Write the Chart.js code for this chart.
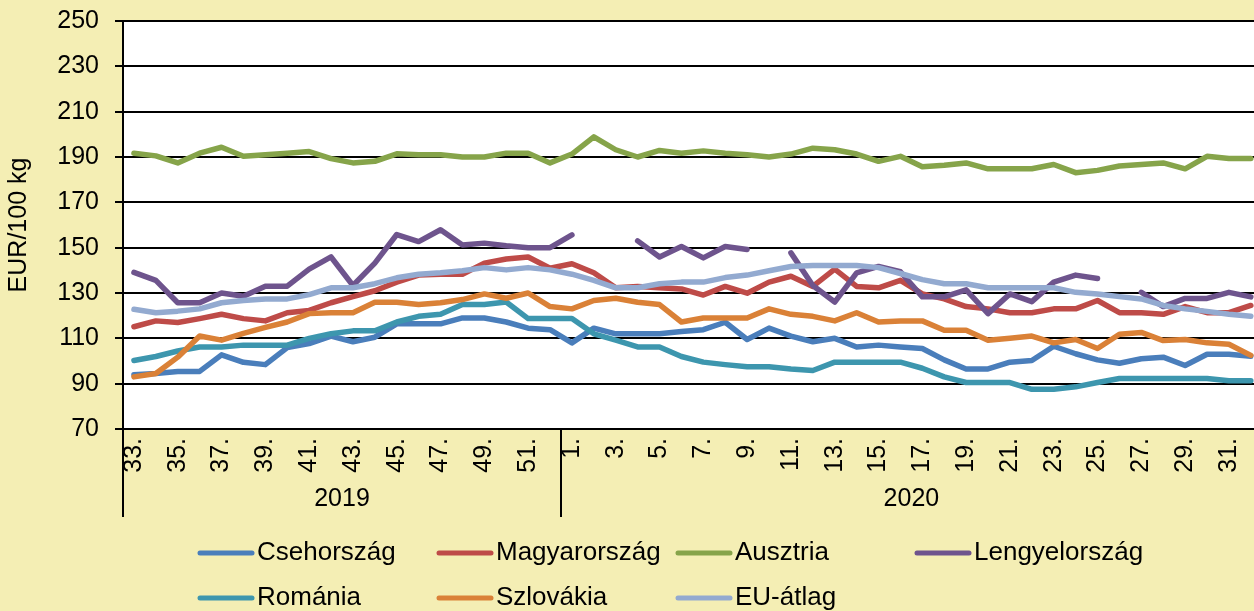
<!DOCTYPE html>
<html>
<head>
<meta charset="utf-8">
<script src="https://cdn.jsdelivr.net/npm/chart.js@4.4.0/dist/chart.umd.min.js"></script>
<style>
  html, body { margin: 0; padding: 0; background: #F4EEB4; overflow: hidden; }
  #wrap { position: relative; width: 1254px; height: 611px; overflow: hidden; }
  canvas { display: block; }
</style>
</head>
<body>
<div id="wrap"><canvas id="c" width="1290" height="611"></canvas></div>
<script>
  // weeks 33-52 of 2019, then weeks 1-32 of 2020
  var weeks = ['33.','34.','35.','36.','37.','38.','39.','40.','41.','42.','43.','44.','45.','46.','47.','48.','49.','50.','51.','52.',
    '1.','2.','3.','4.','5.','6.','7.','8.','9.','10.','11.','12.','13.','14.','15.','16.','17.','18.','19.','20.',
    '21.','22.','23.','24.','25.','26.','27.','28.','29.','30.','31.','32.'];
  var years = ['2019', '2020'];
  var yearWeekCount = [20, 32];

  var csehorszag = [93.9,94.5,95.4,95.4,102.7,99.4,98.4,105.9,107.7,111,108.5,110.5,116.4,116.4,116.4,119,119,117.2,114.5,113.8,
    108,114.5,112,112,112,113,113.8,117.1,109.5,114.5,111,108.5,110,106.2,107,106.2,105.5,100.5,96.5,96.5,
    99.5,100.2,106.5,103.2,100.5,99,101,101.7,98,103,103,102.1];
  var magyarorszag = [115.1,117.7,117,118.7,120.6,118.7,117.7,121.3,122.3,125.7,128.4,131,134.8,137.9,138.3,138.3,143.2,145,145.9,140.9,
    142.9,138.9,132.3,132.9,132.3,131.8,129.1,132.9,129.9,134.8,137.4,132.9,140.5,132.9,132.3,135.6,129.6,127.4,124,123,
    121.3,121.3,123,123,126.7,121.3,121.3,120.6,124,121.3,121.3,124.5];
  var ausztria = [191.7,190.5,187.4,191.7,194.3,190.3,191,191.7,192.4,189.3,187.4,188.1,191.4,191,191,190,190,191.7,191.7,187.4,
    191.3,198.9,193.2,190,192.9,191.7,192.7,191.7,191,190,191.3,193.9,193.2,191.3,188.1,190.3,185.7,186.4,187.4,184.8,
    184.8,184.8,186.7,183.1,184.1,186,186.7,187.4,184.8,190.3,189.3,189.3];
  var lengyelorszag = [139.1,135.6,125.7,125.7,130,128.6,133,133,140.5,145.9,133.3,143.2,155.8,152.7,157.9,151.2,152,150.8,150,150,
    155.6,null,null,153,145.9,150.5,145.5,150.5,149.2,null,147.7,133.3,126,138.9,141.7,139.4,128.3,128.3,131.4,120.9,
    129.6,126.2,134.8,137.9,136.4,null,130.3,124,127.6,127.6,130.3,128.3];
  var romania = [100.2,102,104.4,106.2,106.2,107,107,107,110,112,113.3,113.3,117.2,119.7,120.6,124.9,124.9,126,118.7,118.7,
    118.7,112,109.2,106.2,106.2,102,99.5,98.4,97.5,97.5,96.5,95.8,99.5,99.5,99.5,99.5,96.8,93,90.5,90.5,
    90.5,87.5,87.5,88.6,90.5,92.3,92.3,92.3,92.3,92.3,91.3,91.3];
  var szlovakia = [93,94.5,101.7,111,109.2,112.2,114.8,117.2,120.9,121.3,121.3,125.9,125.9,124.9,125.7,127.1,129.6,127.7,130,124,
    123,126.7,127.7,125.9,124.9,117.2,119,119,119,123,120.6,119.7,117.7,121.3,117.2,117.7,117.7,113.6,113.6,109.2,
    110,111,108,109.5,105.5,111.8,112.6,109,109.5,108,107.4,102.5];
  var euAtlag = [122.8,121.3,122,123,125.7,126.7,127.4,127.4,129.3,132.3,132.3,134.1,136.7,138.3,138.9,139.8,141.2,140.2,141.2,140.2,
    138.3,135.6,132.3,132.3,134.1,134.8,134.8,136.8,137.9,139.8,141.7,142.1,142.1,142.1,141.2,138.6,135.9,134.1,134.1,132.3,
    132.3,132.3,132.3,130.3,129.6,128.4,127.4,124.5,123,121.9,120.6,119.7];

  var seriesNames = ['Csehország', 'Magyarország', 'Ausztria', 'Lengyelország', 'Románia', 'Szlovákia', 'EU-átlag'];
  var seriesData = [csehorszag, magyarorszag, ausztria, lengyelorszag, romania, szlovakia, euAtlag];
  var seriesColors = ['#4A7EBB', '#BE4B48', '#86A44A', '#6E548D', '#3D96AE', '#DA8137', '#93AAD0'];

  var yTicks = [70, 90, 110, 130, 150, 170, 190, 210, 230, 250];

  var font = '"Liberation Sans", Arial, sans-serif';

  var datasets = seriesNames.map(function(name, i) {
    return {
      label: name,
      data: seriesData[i],
      borderColor: seriesColors[i],
      backgroundColor: seriesColors[i],
      borderWidth: 5.5,
      borderCapStyle: 'round',
      borderJoinStyle: 'round',
      pointRadius: 0,
      tension: 0,
      fill: false,
      order: seriesNames.length - i // excel draws the last series on top
    };
  });

  // white plot area, year row under the weeks, and the grid-style legend
  var extras = {
    id: 'extras',
    beforeDraw: function(chart) {
      var a = chart.chartArea, ctx = chart.ctx;
      ctx.save();
      ctx.fillStyle = '#fff';
      ctx.fillRect(a.left, a.top, a.right - a.left, a.bottom - a.top);
      ctx.restore();
    },
    afterDraw: function(chart) {
      var ctx = chart.ctx, xs = chart.scales.x, a = chart.chartArea;
      var half = (xs.getPixelForValue(1) - xs.getPixelForValue(0)) / 2;

      ctx.save();
      ctx.strokeStyle = '#000';
      ctx.lineWidth = 2;
      ctx.fillStyle = '#000';
      ctx.font = '25px ' + font;
      ctx.textAlign = 'center';
      ctx.textBaseline = 'middle';

      var start = 0;
      for (var k = 0; k < years.length; k++) {
        var x0 = xs.getPixelForValue(start) - half;
        var x1 = xs.getPixelForValue(start + yearWeekCount[k] - 1) + half;
        ctx.beginPath();
        ctx.moveTo(x0, a.bottom);
        ctx.lineTo(x0, 517);
        ctx.stroke();
        ctx.fillText(years[k], (x0 + x1) / 2, 499);
        start += yearWeekCount[k];
      }

      // legend
      var cols = [198, 437, 676, 915];
      var rows = [553, 598];
      ctx.textAlign = 'left';
      ctx.font = '26px ' + font;
      ctx.lineCap = 'round';
      chart.data.datasets.forEach(function(ds, i) {
        var cx = cols[i % 4], cy = rows[Math.floor(i / 4)];
        ctx.strokeStyle = ds.borderColor;
        ctx.lineWidth = 5;
        ctx.beginPath();
        ctx.moveTo(cx + 2, cy);
        ctx.lineTo(cx + 54, cy);
        ctx.stroke();
        ctx.fillStyle = '#000';
        ctx.fillText(ds.label, cx + 59, cy);
      });
      ctx.restore();
    }
  };

  new Chart(document.getElementById('c'), {
    type: 'line',
    data: { labels: weeks, datasets: datasets },
    options: {
      responsive: false,
      animation: false,
      layout: { padding: { left: 4, right: 18, top: 21, bottom: 0 } },
      plugins: { legend: { display: false }, tooltip: { enabled: false } },
      scales: {
        x: {
          offset: true,
          grid: { display: false, drawTicks: false },
          border: { display: true, color: '#000', width: 2 },
          ticks: {
            autoSkip: false,
            minRotation: 90,
            maxRotation: 90,
            padding: 9,
            color: '#000',
            font: { family: font, size: 25 },
            callback: function(v, i) { return i % 2 === 0 ? weeks[i] : ''; }
          },
          afterFit: function(s) { s.height = 182; }
        },
        y: {
          min: 70,
          max: 250,
          afterBuildTicks: function(s) { s.ticks = yTicks.map(function(v) { return { value: v }; }); },
          grid: { color: '#000', lineWidth: 2, tickLength: 8, drawTicks: true },
          border: { color: '#000', width: 2 },
          ticks: { color: '#000', padding: 16, font: { family: font, size: 25 } },
          title: { display: true, text: 'EUR/100 kg', color: '#000', font: { family: font, size: 25 }, padding: { top: 0, bottom: 0 } },
          afterFit: function(s) { s.width = 119; s.paddingTop = 0; s.paddingBottom = 0; }
        }
      }
    },
    plugins: [extras]
  });
</script>
</body>
</html>
